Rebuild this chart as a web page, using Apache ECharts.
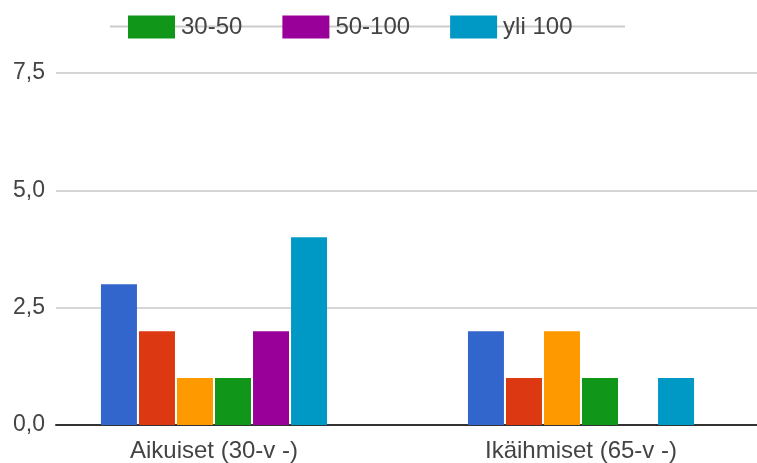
<!DOCTYPE html>
<html>
<head>
<meta charset="utf-8">
<script src="https://cdn.jsdelivr.net/npm/echarts@6/dist/echarts.min.js"></script>
<style>
  html, body { margin: 0; padding: 0; background: #fff; }
  #chart { width: 757px; height: 463px; }
</style>
</head>
<body>
<div id="chart"></div>
<script>
// data
const categories = ['Aikuiset (30-v -)', 'Ikäihmiset (65-v -)'];
const seriesNames = ['alle 10', '10-20', '20-30', '30-50', '50-100', 'yli 100'];
const legendNames = ['30-50', '50-100', 'yli 100'];
const colors = ['#3366cc', '#dc3912', '#ff9900', '#109618', '#990099', '#0099c6'];
const values = [
    [3, 2],
    [2, 1],
    [1, 2],
    [1, 1],
    [2, 0],
    [4, 1]
];
const yTicks = [0, 2.5, 5, 7.5];

const chart = echarts.init(document.getElementById('chart'));

const font = 'Liberation Sans, Arial, sans-serif';

chart.setOption({
    animation: false,
    color: colors,
    textStyle: { fontFamily: font },
    legend: {
        data: legendNames,
        left: 128,
        top: 15,
        padding: 0,
        itemWidth: 47,
        itemHeight: 23,
        itemGap: 40,
        icon: 'rect',
        textStyle: { fontSize: 24, color: '#444', fontFamily: font, padding: [0, 0, 0, 1] }
    },
    graphic: [{
        type: 'line',
        z: -1,
        shape: { x1: 110, y1: 26.5, x2: 625, y2: 26.5 },
        style: { stroke: '#cccccc', lineWidth: 2 }
    }],
    grid: [
        // axis / gridline area
        { left: 56, right: 0, top: 73, bottom: 38, outerBoundsMode: 'none' },
        // bar area (Google centers the groups a bit left)
        { left: 30.5, width: 734, top: 73, bottom: 38, outerBoundsMode: 'none' }
    ],
    xAxis: [
        {
            gridIndex: 0,
            type: 'category',
            data: categories,
            axisLine: { show: true, lineStyle: { color: '#333', width: 2 } },
            axisTick: { show: false },
            axisLabel: { show: false }
        },
        {
            gridIndex: 1,
            type: 'category',
            data: categories,
            axisLine: { show: false },
            axisTick: { show: false },
            axisLabel: { fontSize: 24, color: '#444', margin: 14, fontFamily: font }
        }
    ],
    yAxis: [
        {
            gridIndex: 0,
            type: 'value',
            min: yTicks[0],
            max: yTicks[yTicks.length - 1],
            interval: 2.5,
            axisLine: { show: false },
            axisTick: { show: false },
            splitLine: { lineStyle: { color: '#d6d6d6', width: 2 } },
            axisLabel: {
                fontSize: 23,
                color: '#444',
                margin: 11,
                fontFamily: font,
                formatter: v => v.toFixed(1).replace('.', ',')
            }
        },
        {
            gridIndex: 1,
            type: 'value',
            min: yTicks[0],
            max: yTicks[yTicks.length - 1],
            interval: 2.5,
            show: false
        }
    ],
    series: seriesNames.map((name, i) => ({
        name: name,
        type: 'bar',
        xAxisIndex: 1,
        yAxisIndex: 1,
        barWidth: 36,
        barGap: '5.6%',
        data: values[i]
    }))
});
</script>
</body>
</html>
